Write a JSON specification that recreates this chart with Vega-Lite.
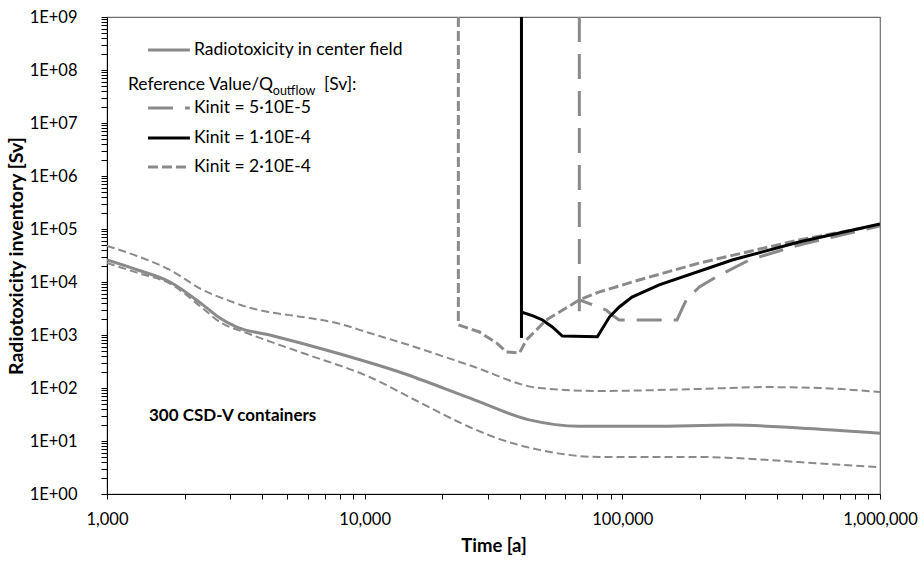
{
  "$schema": "https://vega.github.io/schema/vega-lite/v6.json",
  "width": 773,
  "height": 477,
  "autosize": "none",
  "padding": {"left": 107, "top": 17, "right": 41, "bottom": 69},
  "background": "white",
  "config": {
    "view": {"stroke": "#6e6e6e", "strokeWidth": 1.2},
    "font": "Lato",
    "axis": {"labelFont": "Lato", "titleFont": "Lato", "grid": false, "domainColor": "#000000", "tickColor": "#000000", "labelColor": "#000000", "titleColor": "#000000", "labelOverlap": false, "labelFlush": false}
  },
  "datasets": {
    "curves": [
      {"series": "upper", "t": 1000, "v": 48000},
      {"series": "upper", "t": 1307, "v": 31000},
      {"series": "upper", "t": 1756, "v": 16900},
      {"series": "upper", "t": 2356, "v": 7060},
      {"series": "upper", "t": 2918, "v": 4600},
      {"series": "upper", "t": 3487, "v": 3380},
      {"series": "upper", "t": 4280, "v": 2700},
      {"series": "upper", "t": 5750, "v": 2180},
      {"series": "upper", "t": 7790, "v": 1680},
      {"series": "upper", "t": 10450, "v": 1090},
      {"series": "upper", "t": 14000, "v": 707},
      {"series": "upper", "t": 25500, "v": 270},
      {"series": "upper", "t": 47700, "v": 100},
      {"series": "upper", "t": 81500, "v": 88},
      {"series": "upper", "t": 199000, "v": 96},
      {"series": "upper", "t": 361000, "v": 104},
      {"series": "upper", "t": 581000, "v": 100},
      {"series": "upper", "t": 1000000, "v": 84},
      {"series": "lower", "t": 1000, "v": 22800},
      {"series": "lower", "t": 1307, "v": 15000},
      {"series": "lower", "t": 1756, "v": 9300},
      {"series": "lower", "t": 2356, "v": 3170},
      {"series": "lower", "t": 2740, "v": 1760},
      {"series": "lower", "t": 3487, "v": 1090},
      {"series": "lower", "t": 5750, "v": 457},
      {"series": "lower", "t": 10450, "v": 161},
      {"series": "lower", "t": 16300, "v": 54},
      {"series": "lower", "t": 25500, "v": 18.4},
      {"series": "lower", "t": 34300, "v": 10.4},
      {"series": "lower", "t": 47700, "v": 6.8},
      {"series": "lower", "t": 81500, "v": 5.0},
      {"series": "lower", "t": 199000, "v": 5.0},
      {"series": "lower", "t": 267000, "v": 4.8},
      {"series": "lower", "t": 485000, "v": 4.0},
      {"series": "lower", "t": 1000000, "v": 3.2},
      {"series": "center", "t": 1000, "v": 26000},
      {"series": "center", "t": 1307, "v": 17000},
      {"series": "center", "t": 1756, "v": 10000},
      {"series": "center", "t": 2356, "v": 3700},
      {"series": "center", "t": 2740, "v": 2100},
      {"series": "center", "t": 3190, "v": 1415},
      {"series": "center", "t": 4280, "v": 1000},
      {"series": "center", "t": 7790, "v": 457},
      {"series": "center", "t": 14000, "v": 192},
      {"series": "center", "t": 25500, "v": 65},
      {"series": "center", "t": 43600, "v": 25},
      {"series": "center", "t": 68000, "v": 19},
      {"series": "center", "t": 127000, "v": 19},
      {"series": "center", "t": 267000, "v": 20},
      {"series": "center", "t": 485000, "v": 17.6},
      {"series": "center", "t": 1000000, "v": 14},
      {"series": "k2", "t": 23100, "v": 1000000000},
      {"series": "k2", "t": 23100, "v": 1550},
      {"series": "k2", "t": 27900, "v": 1140},
      {"series": "k2", "t": 32500, "v": 706},
      {"series": "k2", "t": 35500, "v": 478},
      {"series": "k2", "t": 39900, "v": 457},
      {"series": "k2", "t": 42400, "v": 805},
      {"series": "k2", "t": 50700, "v": 1920},
      {"series": "k2", "t": 68100, "v": 4600},
      {"series": "k2", "t": 81500, "v": 6500},
      {"series": "k2", "t": 116000, "v": 10900},
      {"series": "k2", "t": 199000, "v": 22800},
      {"series": "k2", "t": 485000, "v": 62000},
      {"series": "k2", "t": 1000000, "v": 120000},
      {"series": "k1", "t": 40600, "v": 1000000000},
      {"series": "k1", "t": 40600, "v": 875},
      {"series": "k1", "t": 40600, "v": 2700},
      {"series": "k1", "t": 45000, "v": 2300},
      {"series": "k1", "t": 49000, "v": 1920},
      {"series": "k1", "t": 53500, "v": 1420},
      {"series": "k1", "t": 58500, "v": 955},
      {"series": "k1", "t": 80000, "v": 930},
      {"series": "k1", "t": 89100, "v": 2180},
      {"series": "k1", "t": 97300, "v": 3380},
      {"series": "k1", "t": 109000, "v": 5210},
      {"series": "k1", "t": 139000, "v": 8800},
      {"series": "k1", "t": 267000, "v": 26000},
      {"series": "k1", "t": 485000, "v": 56900},
      {"series": "k1", "t": 1000000, "v": 124000},
      {"series": "k5", "t": 68100, "v": 1000000000},
      {"series": "k5", "t": 68100, "v": 2700},
      {"series": "k5", "t": 68100, "v": 4600},
      {"series": "k5", "t": 86700, "v": 2960},
      {"series": "k5", "t": 92000, "v": 2300},
      {"series": "k5", "t": 97300, "v": 1920},
      {"series": "k5", "t": 163000, "v": 1920},
      {"series": "k5", "t": 170000, "v": 3000},
      {"series": "k5", "t": 177000, "v": 4600},
      {"series": "k5", "t": 199000, "v": 8050},
      {"series": "k5", "t": 231000, "v": 12400},
      {"series": "k5", "t": 311000, "v": 26000},
      {"series": "k5", "t": 485000, "v": 50000},
      {"series": "k5", "t": 652000, "v": 70000},
      {"series": "k5", "t": 1000000, "v": 114000}
    ],
    "legendLines": [
      {"item": "center", "t1": 1442, "t2": 2098, "v": 238000000},
      {"item": "k5", "t1": 1442, "t2": 2098, "v": 19200000},
      {"item": "k1", "t1": 1442, "t2": 2098, "v": 5210000},
      {"item": "k2", "t1": 1442, "t2": 2098, "v": 1480000}
    ],
    "legendText": [
      {"label": "Radiotoxicity in center field", "t": 2174, "v": 238000000},
      {"label": "Reference Value/Q", "t": 1206, "v": 52100000},
      {"label": "[Sv]:", "t": 6950, "v": 52100000},
      {"label": "Kinit = 5·10E-5", "t": 2174, "v": 19200000},
      {"label": "Kinit = 1·10E-4", "t": 2174, "v": 5210000},
      {"label": "Kinit = 2·10E-4", "t": 2174, "v": 1480000}
    ],
    "legendSub": [
      {"label": "outflow", "t": 4400, "v": 41000000}
    ],
    "note": [
      {"label": "300 CSD-V containers", "t": 1455, "v": 29.6}
    ]
  },
  "encoding": {
    "x": {
      "field": "t", "type": "quantitative",
      "scale": {"type": "log", "domain": [1000, 1000000]},
      "axis": {
        "title": "Time [a]", "titleFontSize": 18.5, "titleFontWeight": "bold", "titlePadding": 9,
        "labelFontSize": 16.5, "tickSize": 5, "labelPadding": 12,
        "values": [1000,2000,3000,4000,5000,6000,7000,8000,9000,10000,20000,30000,40000,50000,60000,70000,80000,90000,100000,200000,300000,400000,500000,600000,700000,800000,900000,1000000],
        "labelExpr": "abs(log(datum.value)/LN10 - round(log(datum.value)/LN10)) < 1e-9 ? format(datum.value, ',') : ''"
      }
    },
    "y": {
      "field": "v", "type": "quantitative",
      "scale": {"type": "log", "domain": [1, 1000000000]},
      "axis": {
        "title": "Radiotoxicity inventory [Sv]", "titleFontSize": 19.5, "titleFontWeight": "bold", "titlePadding": 3,
        "labelFontSize": 16.5, "tickSize": 6, "labelPadding": 24,
        "values": [1,2,3,4,5,6,7,8,9,10,20,30,40,50,60,70,80,90,100,200,300,400,500,600,700,800,900,1000,2000,3000,4000,5000,6000,7000,8000,9000,10000,20000,30000,40000,50000,60000,70000,80000,90000,100000,200000,300000,400000,500000,600000,700000,800000,900000,1000000,2000000,3000000,4000000,5000000,6000000,7000000,8000000,9000000,10000000,20000000,30000000,40000000,50000000,60000000,70000000,80000000,90000000,100000000,200000000,300000000,400000000,500000000,600000000,700000000,800000000,900000000,1000000000],
        "labelExpr": "abs(log(datum.value)/LN10 - round(log(datum.value)/LN10)) < 1e-9 ? '1E+0' + round(log(datum.value)/LN10) : ''"
      }
    }
  },
  "layer": [
    {
      "data": {"name": "curves"},
      "transform": [{"filter": "datum.series === 'upper' || datum.series === 'lower'"}],
      "mark": {"type": "line", "color": "#8a8a8a", "strokeWidth": 2, "strokeDash": [8, 4], "interpolate": "monotone", "clip": true},
      "encoding": {"detail": {"field": "series"}}
    },
    {
      "data": {"name": "curves"},
      "transform": [{"filter": "datum.series === 'center'"}],
      "mark": {"type": "line", "color": "#8a8a8a", "strokeWidth": 3, "interpolate": "monotone", "clip": true},
      "encoding": {}
    },
    {
      "data": {"name": "curves"},
      "transform": [{"filter": "datum.series === 'k2'"}],
      "mark": {"type": "line", "color": "#8a8a8a", "strokeWidth": 3, "strokeDash": [10, 4], "clip": true},
      "encoding": {"order": {"value": null}}
    },
    {
      "data": {"name": "curves"},
      "transform": [{"filter": "datum.series === 'k5'"}],
      "mark": {"type": "line", "color": "#8a8a8a", "strokeWidth": 3, "strokeDash": [25, 12], "clip": true},
      "encoding": {"order": {"value": null}}
    },
    {
      "data": {"name": "curves"},
      "transform": [{"filter": "datum.series === 'k1'"}],
      "mark": {"type": "line", "color": "#000000", "strokeWidth": 3, "clip": true},
      "encoding": {"order": {"value": null}}
    },
    {
      "data": {"name": "legendLines"},
      "transform": [{"filter": "datum.item === 'center'"}],
      "mark": {"type": "rule", "color": "#8a8a8a", "strokeWidth": 3},
      "encoding": {"x": {"field": "t1", "type": "quantitative"}, "x2": {"field": "t2"}, "y": {"field": "v", "type": "quantitative"}}
    },
    {
      "data": {"name": "legendLines"},
      "transform": [{"filter": "datum.item === 'k5'"}],
      "mark": {"type": "rule", "color": "#8a8a8a", "strokeWidth": 3, "strokeDash": [25, 12]},
      "encoding": {"x": {"field": "t1", "type": "quantitative"}, "x2": {"field": "t2"}, "y": {"field": "v", "type": "quantitative"}}
    },
    {
      "data": {"name": "legendLines"},
      "transform": [{"filter": "datum.item === 'k1'"}],
      "mark": {"type": "rule", "color": "#000000", "strokeWidth": 3},
      "encoding": {"x": {"field": "t1", "type": "quantitative"}, "x2": {"field": "t2"}, "y": {"field": "v", "type": "quantitative"}}
    },
    {
      "data": {"name": "legendLines"},
      "transform": [{"filter": "datum.item === 'k2'"}],
      "mark": {"type": "rule", "color": "#8a8a8a", "strokeWidth": 3, "strokeDash": [10, 4]},
      "encoding": {"x": {"field": "t1", "type": "quantitative"}, "x2": {"field": "t2"}, "y": {"field": "v", "type": "quantitative"}}
    },
    {
      "data": {"name": "legendText"},
      "mark": {"type": "text", "align": "left", "baseline": "middle", "fontSize": 17.5, "font": "Lato", "color": "#000000"},
      "encoding": {"text": {"field": "label"}}
    },
    {
      "data": {"name": "legendSub"},
      "mark": {"type": "text", "align": "left", "baseline": "middle", "fontSize": 12.5, "font": "Lato", "color": "#000000"},
      "encoding": {"text": {"field": "label"}}
    },
    {
      "data": {"name": "note"},
      "mark": {"type": "text", "align": "left", "baseline": "middle", "fontSize": 17, "fontWeight": "bold", "font": "Lato", "color": "#000000"},
      "encoding": {"text": {"field": "label"}}
    }
  ]
}
